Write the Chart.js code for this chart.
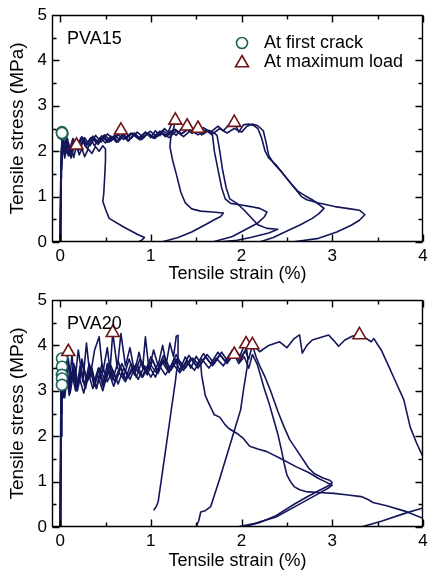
<!DOCTYPE html>
<html><head><meta charset="utf-8">
<script src="https://cdn.jsdelivr.net/npm/chart.js@4"></script>
<style>html,body{margin:0;padding:0;background:#fff;}.box{position:relative;width:432px;height:287px;}</style>
</head><body>
<div class="box"><canvas id="c1"></canvas></div>
<div class="box"><canvas id="c2"></canvas></div>
<script>
// ---------- data (strain %, stress MPa) ----------
const xTickLabels = [0, 1, 2, 3, 4];
const xMinorTicks = [0.5, 1.5, 2.5, 3.5];
const yTickLabels = [0, 1, 2, 3, 4, 5];
const yMinorTicks = [0.5, 1.5, 2.5, 3.5, 4.5];

// PVA15 specimens
const pva15_s1 = [[0,0],[0.008,1.4],[0.015,2.0],[0.03,2.12],[0.05,1.85],[0.07,2.05],[0.09,1.9],[0.12,2.08],[0.15,1.86],[0.18,2.13],[0.21,1.92],[0.24,2.06],[0.27,1.88],[0.31,2.05],[0.35,1.95],[0.39,2.1],[0.43,2.0],[0.47,2.12],[0.5,2.05],[0.5,1.8],[0.49,1.4],[0.48,1.05],[0.47,0.9],[0.5,0.72],[0.54,0.52],[0.7,0.33],[0.85,0.17],[0.93,0.1],[0.9,0.04],[0.86,0]];
const pva15_s2 = [[0,0],[0.01,1.6],[0.018,2.2],[0.03,2.4],[0.05,2.05],[0.08,2.28],[0.11,1.95],[0.15,2.22],[0.19,2.05],[0.24,2.3],[0.29,2.12],[0.34,2.3],[0.4,2.18],[0.46,2.34],[0.52,2.2],[0.58,2.32],[0.64,2.2],[0.7,2.37],[0.76,2.24],[0.82,2.4],[0.88,2.27],[0.94,2.42],[1.0,2.3],[1.05,2.45],[1.1,2.34],[1.15,2.5],[1.19,2.42],[1.23,2.6],[1.27,2.68],[1.25,2.5],[1.22,2.3],[1.21,2.1],[1.24,1.8],[1.28,1.5],[1.33,1.1],[1.38,0.86],[1.45,0.73],[1.55,0.68],[1.68,0.66],[1.8,0.64],[1.77,0.56],[1.71,0.5],[1.6,0.38],[1.45,0.22],[1.3,0.1],[1.12,0]];
const pva15_s3 = [[0,0],[0.01,1.7],[0.02,2.3],[0.04,2.0],[0.07,2.25],[0.1,1.9],[0.14,2.2],[0.18,2.05],[0.23,2.3],[0.28,2.1],[0.33,2.28],[0.38,2.12],[0.44,2.3],[0.5,2.18],[0.56,2.33],[0.62,2.2],[0.68,2.36],[0.75,2.22],[0.82,2.38],[0.9,2.26],[0.97,2.4],[1.04,2.3],[1.1,2.43],[1.16,2.32],[1.22,2.45],[1.28,2.35],[1.34,2.5],[1.4,2.55],[1.45,2.4],[1.5,2.48],[1.56,2.36],[1.62,2.45],[1.66,2.38],[1.68,2.35],[1.7,2.0],[1.74,1.6],[1.78,1.2],[1.82,0.95],[1.88,0.85],[1.98,0.82],[2.1,0.78],[2.2,0.74],[2.28,0.66],[2.25,0.55],[2.18,0.42],[2.05,0.28],[1.9,0.12],[1.68,0]];
const pva15_s4 = [[0,0],[0.01,1.4],[0.015,2.1],[0.03,2.35],[0.06,1.95],[0.09,2.2],[0.12,1.85],[0.16,2.15],[0.2,2.0],[0.25,2.25],[0.3,2.05],[0.36,2.3],[0.42,2.15],[0.48,2.32],[0.54,2.2],[0.6,2.35],[0.66,2.25],[0.72,2.4],[0.78,2.28],[0.85,2.42],[0.92,2.3],[0.99,2.44],[1.06,2.33],[1.13,2.46],[1.2,2.36],[1.27,2.48],[1.33,2.38],[1.4,2.47],[1.46,2.4],[1.52,2.5],[1.58,2.38],[1.64,2.46],[1.7,2.4],[1.73,2.35],[1.76,2.0],[1.79,1.6],[1.83,1.2],[1.87,0.95],[1.95,0.85],[2.03,0.7],[2.1,0.55],[2.18,0.38],[2.28,0.3],[2.4,0.28],[2.3,0.2],[2.1,0.1],[1.95,0.04],[1.75,0]];
const pva15_s5 = [[0,0],[0.01,1.8],[0.02,2.35],[0.04,2.05],[0.07,2.3],[0.1,2.0],[0.14,2.28],[0.19,2.1],[0.24,2.32],[0.3,2.15],[0.36,2.33],[0.42,2.2],[0.49,2.36],[0.56,2.22],[0.63,2.38],[0.7,2.26],[0.78,2.4],[0.86,2.28],[0.94,2.42],[1.02,2.3],[1.1,2.44],[1.18,2.34],[1.26,2.48],[1.34,2.38],[1.42,2.5],[1.5,2.4],[1.58,2.52],[1.66,2.42],[1.74,2.55],[1.8,2.45],[1.86,2.58],[1.92,2.63],[1.97,2.42],[2.02,2.58],[2.08,2.6],[2.14,2.56],[2.18,2.5],[2.22,2.3],[2.26,2.0],[2.3,1.85],[2.38,1.7],[2.46,1.5],[2.54,1.3],[2.62,1.12],[2.7,1.02],[2.78,0.93],[2.86,0.82],[2.91,0.74],[2.85,0.62],[2.78,0.52],[2.65,0.38],[2.49,0.23],[2.35,0.1],[2.2,0]];
const pva15_s6 = [[0,0],[0.005,1.2],[0.012,2.0],[0.025,2.2],[0.05,1.9],[0.08,2.15],[0.12,1.95],[0.17,2.2],[0.22,2.05],[0.27,2.3],[0.33,2.12],[0.39,2.35],[0.45,2.2],[0.52,2.38],[0.6,2.25],[0.67,2.46],[0.72,2.28],[0.8,2.4],[0.88,2.25],[0.96,2.38],[1.04,2.28],[1.12,2.4],[1.2,2.3],[1.28,2.44],[1.36,2.32],[1.44,2.46],[1.52,2.36],[1.6,2.47],[1.68,2.38],[1.76,2.5],[1.84,2.4],[1.92,2.5],[2.0,2.42],[2.06,2.55],[2.12,2.6],[2.18,2.56],[2.24,2.45],[2.27,2.2],[2.3,1.9],[2.36,1.72],[2.44,1.55],[2.52,1.35],[2.6,1.15],[2.66,1.0],[2.72,0.93],[2.85,0.86],[3.03,0.78],[3.2,0.73],[3.3,0.7],[3.36,0.6],[3.3,0.48],[3.21,0.37],[3.05,0.22],[2.85,0.08],[2.56,0]];
const pva15_firstCrack = [[0.02,2.42],[0.025,2.38],[0.02,2.4]];
const pva15_maxLoad = [[0.18,2.13],[0.67,2.46],[1.27,2.68],[1.4,2.55],[1.52,2.5],[1.92,2.63]];

// PVA20 specimens
const pva20_s1 = [[0,0],[0.01,2.0],[0.02,3.3],[0.04,2.95],[0.07,3.6],[0.1,3.05],[0.13,3.8],[0.16,3.15],[0.2,3.9],[0.25,3.2],[0.29,4.05],[0.33,3.3],[0.38,3.9],[0.43,4.19],[0.47,3.4],[0.52,3.95],[0.55,3.45],[0.58,4.28],[0.63,3.5],[0.67,4.26],[0.72,3.55],[0.77,3.95],[0.82,3.4],[0.87,3.85],[0.91,3.5],[0.94,4.19],[0.98,3.45],[1.03,3.9],[1.08,3.55],[1.13,4.0],[1.17,3.6],[1.21,4.05],[1.25,3.75],[1.28,4.2],[1.3,4.22],[1.3,3.7],[1.27,3.2],[1.22,2.5],[1.17,1.8],[1.12,1.1],[1.08,0.55],[1.06,0.45],[1.03,0.37]];
const pva20_s2 = [[0,0],[0.01,2.5],[0.02,3.1],[0.05,2.85],[0.08,3.35],[0.11,2.95],[0.15,3.45],[0.19,3.0],[0.23,3.5],[0.28,3.05],[0.33,3.55],[0.38,3.1],[0.43,3.5],[0.48,3.15],[0.54,3.6],[0.6,3.2],[0.66,3.55],[0.72,3.25],[0.78,3.6],[0.84,3.3],[0.9,3.65],[0.96,3.35],[1.02,3.68],[1.08,3.38],[1.14,3.7],[1.2,3.42],[1.26,3.72],[1.32,3.45],[1.38,3.75],[1.44,3.5],[1.5,3.76],[1.55,3.6],[1.56,3.35],[1.6,2.9],[1.63,2.76],[1.7,2.47],[1.76,2.42],[1.82,2.25],[1.86,2.17],[1.95,2.06],[2.02,1.95],[2.09,1.78],[2.18,1.72],[2.28,1.66],[2.42,1.52],[2.6,1.33],[2.74,1.2],[2.84,1.08],[2.92,1.0],[3.0,0.92],[2.96,0.86],[2.8,0.68],[2.6,0.46],[2.38,0.22],[2.15,0.08],[1.95,0]];
const pva20_s3 = [[0,0],[0.01,2.8],[0.02,3.7],[0.04,3.0],[0.07,3.5],[0.1,2.9],[0.14,3.4],[0.18,3.0],[0.22,3.55],[0.27,3.1],[0.32,3.6],[0.37,3.15],[0.42,3.5],[0.47,3.1],[0.52,3.6],[0.58,3.25],[0.64,3.65],[0.7,3.3],[0.76,3.7],[0.82,3.35],[0.88,3.7],[0.94,3.4],[1.0,3.75],[1.07,3.45],[1.14,3.78],[1.21,3.5],[1.28,3.8],[1.35,3.5],[1.42,3.78],[1.5,3.55],[1.58,3.82],[1.66,3.6],[1.74,3.85],[1.82,3.65],[1.9,3.9],[1.97,3.7],[2.02,3.95],[2.05,4.03],[2.07,3.7],[2.06,3.5],[2.02,3.0],[1.99,2.58],[1.95,2.32],[1.84,1.59],[1.75,1.0],[1.66,0.45],[1.6,0.36],[1.55,0.33],[1.53,0.15],[1.5,0]];
const pva20_s4 = [[0,0],[0.01,3.0],[0.02,3.4],[0.05,3.1],[0.08,3.8],[0.11,3.2],[0.15,3.6],[0.19,3.05],[0.24,3.7],[0.29,3.2],[0.34,3.5],[0.4,3.05],[0.46,3.6],[0.52,3.2],[0.58,3.45],[0.64,3.15],[0.7,3.5],[0.77,3.25],[0.84,3.6],[0.91,3.3],[0.98,3.55],[1.05,3.3],[1.12,3.65],[1.2,3.4],[1.28,3.7],[1.36,3.45],[1.44,3.72],[1.52,3.5],[1.6,3.75],[1.68,3.55],[1.76,3.8],[1.84,3.6],[1.92,3.82],[1.98,3.65],[2.04,3.88],[2.08,3.7],[2.12,4.01],[2.16,3.75],[2.2,3.55],[2.26,3.3],[2.32,3.0],[2.4,2.55],[2.47,2.2],[2.53,1.93],[2.64,1.6],[2.7,1.42],[2.74,1.3],[2.8,1.18],[2.9,1.08],[2.97,1.03],[3.0,0.98],[2.97,0.92],[2.85,0.8],[2.72,0.66],[2.58,0.5],[2.38,0.25],[2.2,0.1],[2.02,0]];
const pva20_s5 = [[0,0],[0.008,2.6],[0.015,3.15],[0.04,2.85],[0.07,3.3],[0.1,2.95],[0.13,3.4],[0.17,3.0],[0.21,3.3],[0.26,2.95],[0.31,3.4],[0.36,3.05],[0.41,3.35],[0.47,3.0],[0.53,3.45],[0.59,3.1],[0.65,3.4],[0.72,3.2],[0.79,3.5],[0.86,3.25],[0.93,3.55],[1.0,3.3],[1.08,3.6],[1.16,3.35],[1.24,3.6],[1.32,3.4],[1.4,3.65],[1.48,3.45],[1.56,3.7],[1.64,3.5],[1.72,3.72],[1.8,3.55],[1.86,3.75],[1.92,3.8],[1.97,3.6],[2.03,3.75],[2.08,3.5],[2.12,3.8],[2.17,3.6],[2.2,3.4],[2.25,3.05],[2.3,2.75],[2.35,2.4],[2.4,2.05],[2.44,1.7],[2.47,1.4],[2.5,1.15],[2.54,1.0],[2.58,0.89],[2.64,0.82],[2.71,0.78],[2.85,0.76],[3.02,0.74],[3.15,0.71],[3.32,0.67],[3.4,0.6],[3.45,0.54],[3.6,0.47],[3.8,0.35],[4.0,0.19]];
const pva20_s6 = [[0,0],[0.005,2.2],[0.012,3.2],[0.03,3.6],[0.06,3.1],[0.09,3.7],[0.12,3.2],[0.16,3.55],[0.2,3.1],[0.25,3.6],[0.3,3.2],[0.35,3.5],[0.4,3.05],[0.45,3.45],[0.5,3.2],[0.56,3.55],[0.62,3.25],[0.68,3.6],[0.75,3.3],[0.82,3.55],[0.9,3.3],[0.98,3.62],[1.06,3.4],[1.14,3.65],[1.22,3.45],[1.3,3.7],[1.38,3.5],[1.46,3.72],[1.54,3.55],[1.62,3.8],[1.7,3.6],[1.78,3.85],[1.85,3.65],[1.92,3.9],[2.0,3.75],[2.06,3.95],[2.13,4.0],[2.2,3.86],[2.3,4.0],[2.42,4.08],[2.5,3.95],[2.58,4.15],[2.64,4.23],[2.67,3.83],[2.72,4.0],[2.78,4.12],[2.88,4.18],[2.96,4.23],[3.02,4.1],[3.07,3.98],[3.14,4.12],[3.22,4.2],[3.3,4.25],[3.38,4.15],[3.43,4.08],[3.46,4.15],[3.5,4.02],[3.54,3.9],[3.61,3.6],[3.7,3.2],[3.79,2.8],[3.86,2.2],[3.93,1.85],[4.0,1.55],[4.08,1.0],[4.12,0.6],[4.05,0.47],[4.0,0.42],[3.8,0.3],[3.55,0.13],[3.32,0]];
const pva20_firstCrack = [[0.02,3.71],[0.02,3.53],[0.02,3.35],[0.02,3.27],[0.02,3.13]];
const pva20_maxLoad = [[0.09,3.86],[0.58,4.28],[1.92,3.8],[2.05,4.03],[2.12,4.01],[3.3,4.23]];

// ---------- styles ----------
const FONT = "'Liberation Sans', Arial, Helvetica, sans-serif";
const LINE = '#13165a';
const TEAL = '#1d6459';
const MAROON = '#701515';

const toXY = arr => arr.map(p => ({x: p[0], y: p[1]}));

const frameTicks = {
  id: 'frameTicks',
  afterDatasetsDraw(chart, args, o) {
    const {ctx, chartArea: a} = chart;
    const xs = chart.scales.x, ys = chart.scales.y;
    const L = Math.round(a.left) + 0.5, R = Math.round(a.right) - 0.5;
    const T = Math.round(a.top) + 0.5, B = Math.round(a.bottom) - 0.5;
    ctx.save();
    ctx.strokeStyle = '#000';
    ctx.lineWidth = 1.4;
    ctx.beginPath();
    ctx.rect(L, T, R - L, B - T);
    const xt = (v, len) => { const p = Math.round(xs.getPixelForValue(v)) + 0.5; ctx.moveTo(p, B); ctx.lineTo(p, B - len); ctx.moveTo(p, T); ctx.lineTo(p, T + len); };
    const yt = (v, len) => { const p = Math.round(ys.getPixelForValue(v)) + 0.5; ctx.moveTo(L, p); ctx.lineTo(L + len, p); ctx.moveTo(R, p); ctx.lineTo(R - len, p); };
    xTickLabels.forEach(v => xt(v, 7));
    xMinorTicks.forEach(v => xt(v, 4));
    yTickLabels.forEach(v => yt(v, 7));
    yMinorTicks.forEach(v => yt(v, 4));
    ctx.stroke();
    ctx.fillStyle = '#000';
    ctx.font = '18px ' + FONT;
    ctx.textBaseline = 'middle';
    ctx.textAlign = 'left';
    ctx.fillText(o.label, o.lx, o.ly);
    if (o.legend) {
      ctx.lineWidth = 1.6;
      ctx.strokeStyle = TEAL; ctx.fillStyle = '#fff';
      ctx.beginPath(); ctx.arc(242, 43, 5.5, 0, Math.PI * 2); ctx.fill(); ctx.stroke();
      const r = 7.5, cx = 242, cy = 63;
      ctx.strokeStyle = MAROON;
      ctx.beginPath();
      ctx.moveTo(cx, cy - r);
      ctx.lineTo(cx + r * Math.sin(2 * Math.PI / 3), cy - r * Math.cos(2 * Math.PI / 3));
      ctx.lineTo(cx + r * Math.sin(4 * Math.PI / 3), cy - r * Math.cos(4 * Math.PI / 3));
      ctx.closePath(); ctx.fill(); ctx.stroke();
      ctx.fillStyle = '#000';
      ctx.fillText('At first crack', 264, 43);
      ctx.fillText('At maximum load', 264, 62);
    }
    ctx.restore();
  }
};

function makeChart(id, curves, crack, maxLoad, opts) {
  const datasets = curves.map(c => ({
    data: toXY(c), showLine: true, borderColor: LINE, borderWidth: 1.6,
    pointRadius: 0, tension: 0, fill: false, borderJoinStyle: 'round', order: 2
  }));
  datasets.push({
    data: toXY(crack), showLine: false, pointStyle: 'circle', pointRadius: 5.5,
    pointBorderWidth: 1.6, pointBorderColor: TEAL, pointBackgroundColor: '#fff', order: 1
  });
  datasets.push({
    data: toXY(maxLoad), showLine: false, pointStyle: 'triangle', pointRadius: 7.5,
    pointBorderWidth: 1.6, pointBorderColor: MAROON, pointBackgroundColor: '#fff', order: 0
  });
  return new Chart(document.getElementById(id), {
    type: 'scatter',
    data: {datasets},
    options: {
      responsive: true, maintainAspectRatio: false, animation: false,
      layout: {padding: {top: opts.padTop, right: 3, left: 0, bottom: 0}},
      plugins: {legend: {display: false}, tooltip: {enabled: false},
        frameTicks: {label: opts.label, lx: 67, ly: opts.labelY, legend: opts.legend}},
      scales: {
        x: {
          type: 'linear', min: -0.09, max: 4,
          grid: {display: false, drawTicks: false}, border: {display: false},
          afterBuildTicks: s => { s.ticks = xTickLabels.map(v => ({value: v})); },
          afterFit: s => { s.height = opts.xAxisH; s.paddingLeft = 0; s.paddingRight = 0; },
          ticks: {font: {family: FONT, size: 17}, color: '#000', padding: 4, autoSkip: false, maxRotation: 0},
          title: {display: true, text: 'Tensile strain (%)', color: '#000', font: {family: FONT, size: 18}, padding: {top: 0, bottom: opts.titlePad}}
        },
        y: {
          type: 'linear', min: 0, max: 5,
          grid: {display: false, drawTicks: false}, border: {display: false},
          afterBuildTicks: s => { s.ticks = yTickLabels.map(v => ({value: v})); },
          afterFit: s => { s.width = 52; s.paddingTop = 0; s.paddingBottom = 0; },
          ticks: {font: {family: FONT, size: 17}, color: '#000', padding: 5},
          title: {display: true, text: 'Tensile stress (MPa)', color: '#000', font: {family: FONT, size: 19}, padding: {top: 6, bottom: 0}}
        }
      }
    },
    plugins: [frameTicks]
  });
}

makeChart('c1', [pva15_s1, pva15_s2, pva15_s3, pva15_s4, pva15_s5, pva15_s6], pva15_firstCrack, pva15_maxLoad,
  {padTop: 15, xAxisH: 45, titlePad: 2, label: 'PVA15', labelY: 39, legend: true});
makeChart('c2', [pva20_s1, pva20_s2, pva20_s3, pva20_s4, pva20_s5, pva20_s6], pva20_firstCrack, pva20_maxLoad,
  {padTop: 13, xAxisH: 47, titlePad: 2, label: 'PVA20', labelY: 37, legend: false});
</script>
</body></html>
